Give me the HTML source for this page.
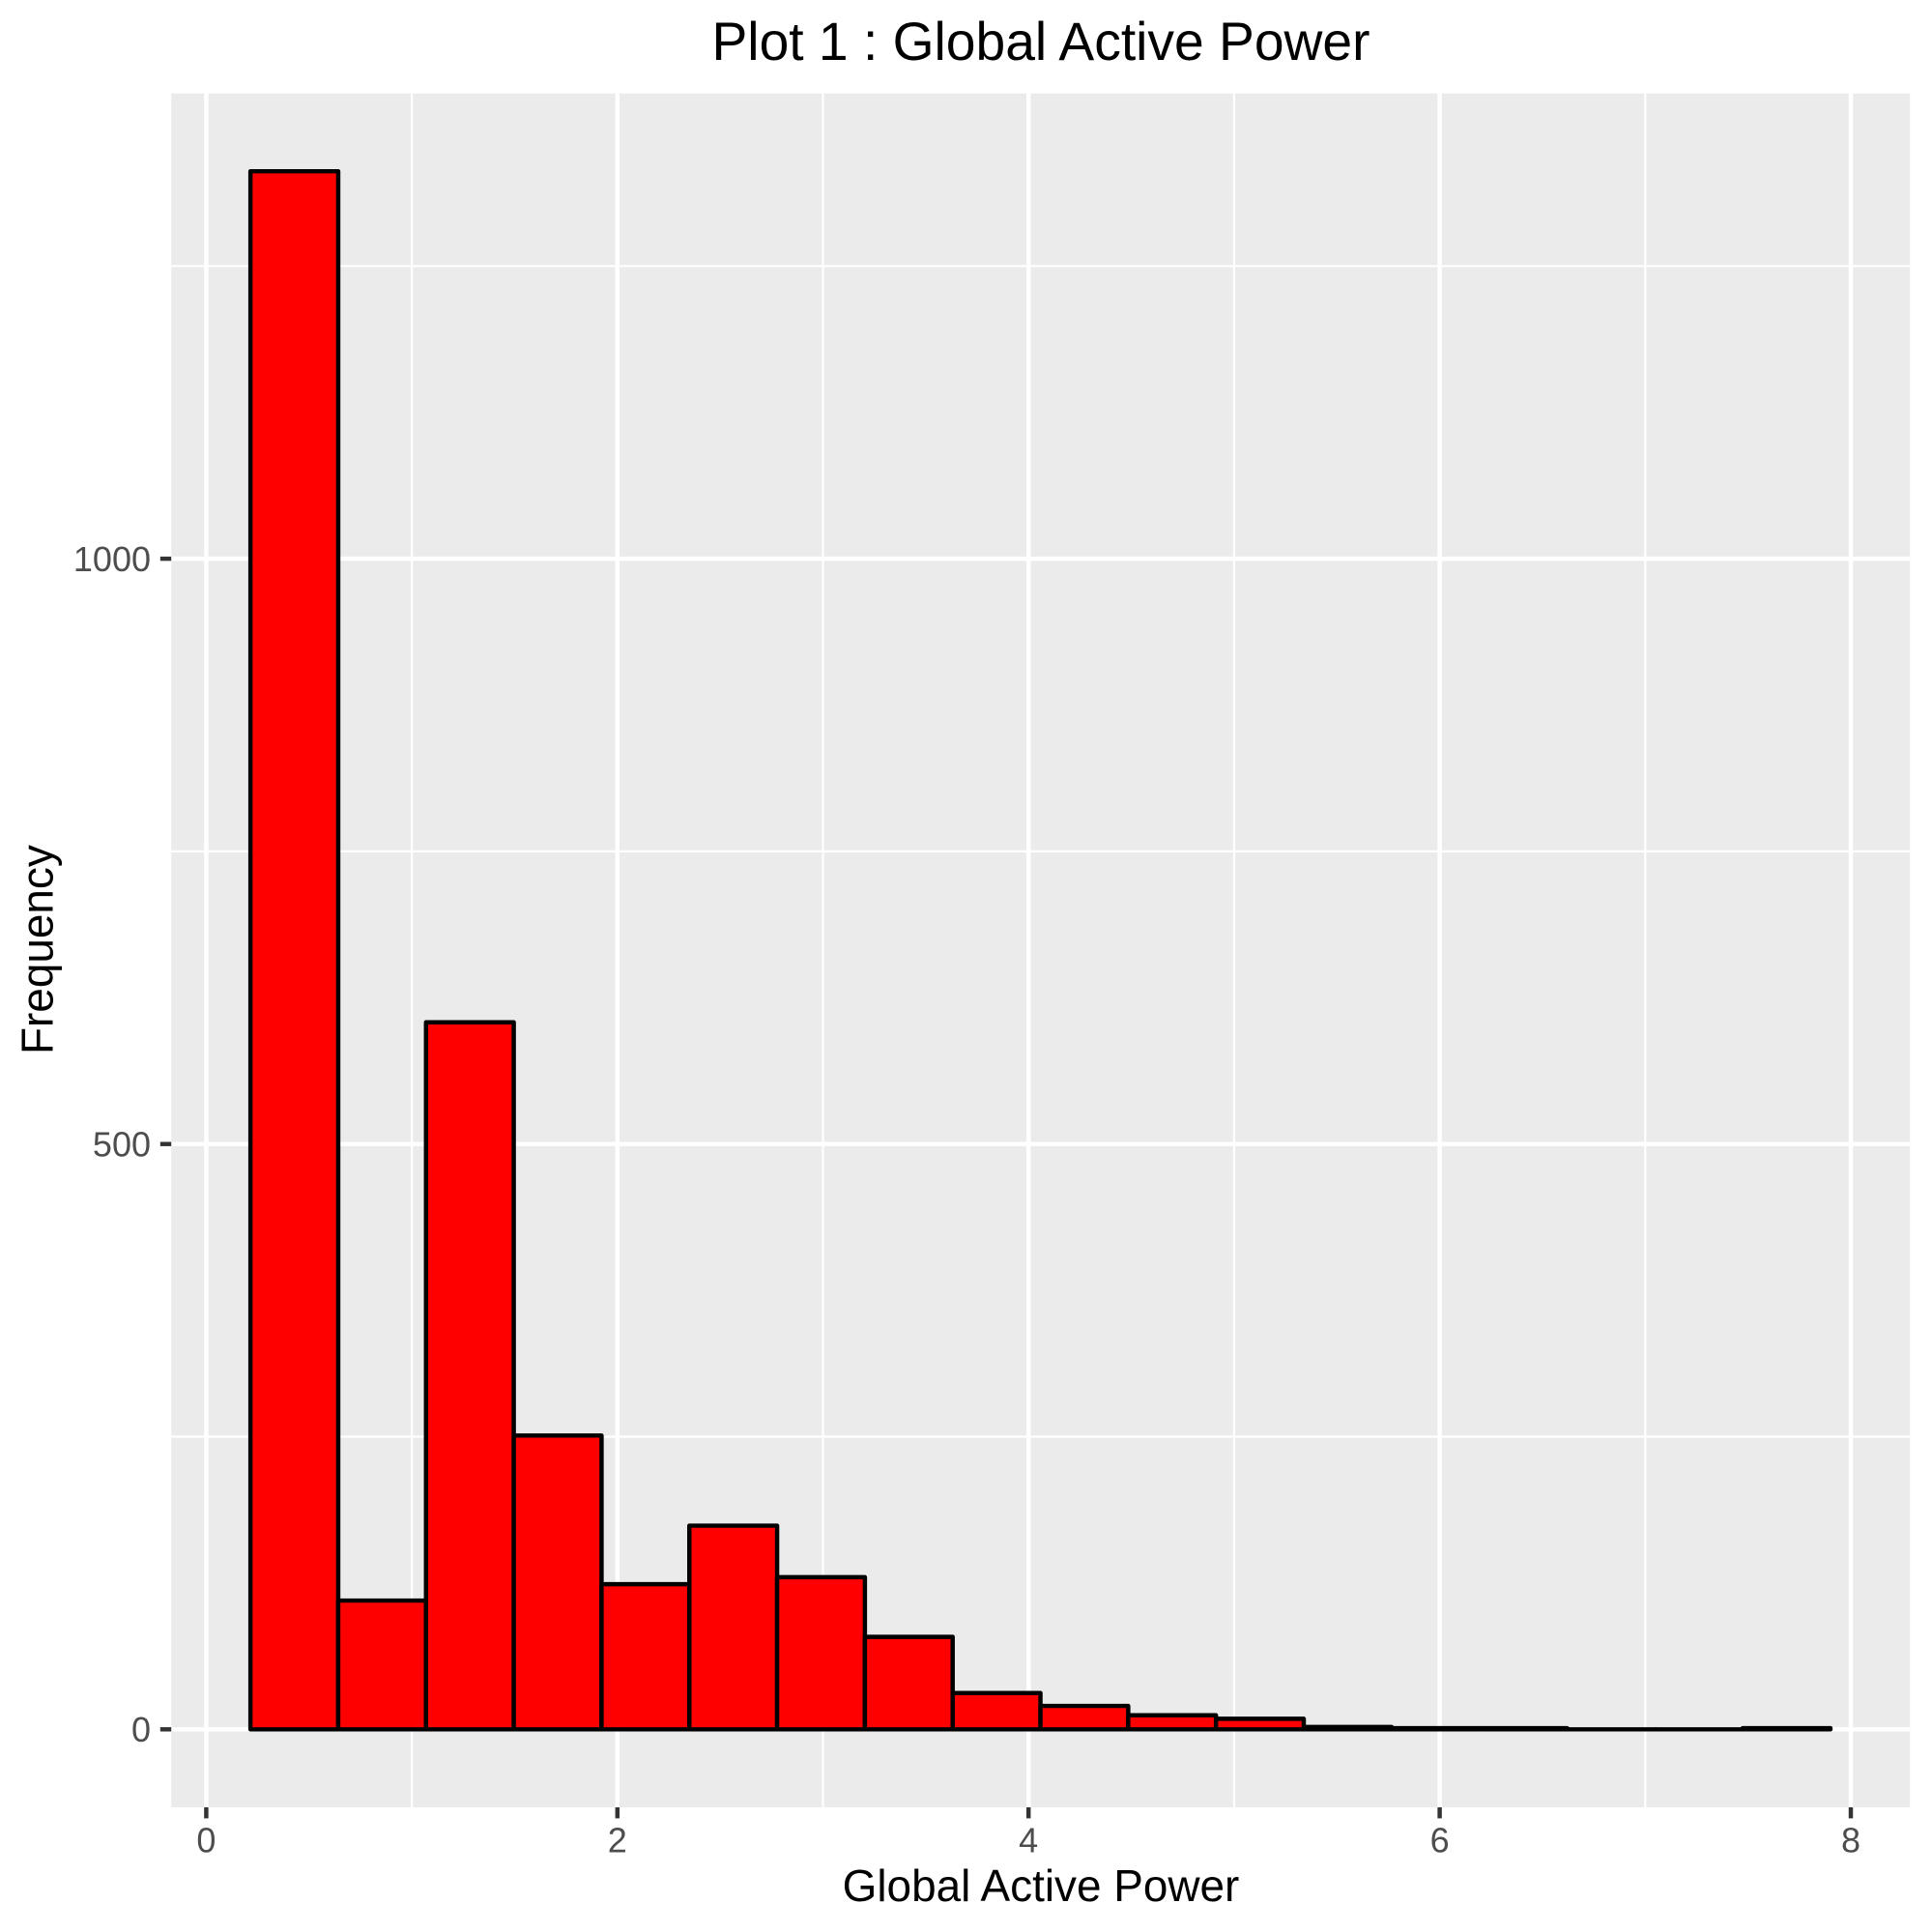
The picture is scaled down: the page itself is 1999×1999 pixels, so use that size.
<!DOCTYPE html>
<html>
<head>
<meta charset="utf-8">
<title>Plot 1 : Global Active Power</title>
<style>
html,body{margin:0;padding:0;background:#fff;}
svg{display:block;}
text{font-family:"Liberation Sans",Arial,sans-serif;}
</style>
</head>
<body>
<svg id="chart" xmlns="http://www.w3.org/2000/svg" width="1999" height="1999" viewBox="0 0 1999 1999">
  <rect x="0" y="0" width="1999" height="1999" fill="#ffffff"/>
  <rect x="177.2" y="96.7" width="1799" height="1773.3" fill="#EBEBEB"/>
  <g id="grid"></g>
  <g id="bars"></g>
  <g id="axes"></g>
  <text x="1077" y="62" text-anchor="middle" font-size="55.2" fill="#000000">Plot 1 : Global Active Power</text>
  <text x="1077" y="1967" text-anchor="middle" font-size="45.9" fill="#000000">Global Active Power</text>
  <text transform="translate(54.3 982.6) rotate(-90)" text-anchor="middle" font-size="45.9" fill="#000000">Frequency</text>
</svg>
<script>
const binCounts = [1331, 110, 604, 251, 124, 174, 130, 79, 31, 20, 12, 9, 2, 1, 1, 0, 0, 1];
const binOrigin = 0.215;
const binWidth = 0.427;
const xMajorTicks = [0, 2, 4, 6, 8];
const xMinorTicks = [1, 3, 5, 7];
const yMajorTicks = [0, 500, 1000];
const yMinorTicks = [250, 750, 1250];

const NS = 'http://www.w3.org/2000/svg';
const panel = { left: 177.2, right: 1976.2, top: 96.7, bottom: 1870 };
const majorWidth = 4.45;
const minorWidth = 2.2;
const tickLength = 11.4;

function xScale(v) { return 213.4 + v * 212.7; }
function yScale(v) { return 1789.3 - v * 1.2112; }

function makeLine(parent, x1, y1, x2, y2, stroke, width) {
  const el = document.createElementNS(NS, 'line');
  el.setAttribute('x1', x1);
  el.setAttribute('y1', y1);
  el.setAttribute('x2', x2);
  el.setAttribute('y2', y2);
  el.setAttribute('stroke', stroke);
  el.setAttribute('stroke-width', width);
  parent.appendChild(el);
  return el;
}

function makeLabel(parent, x, y, anchor, content) {
  const el = document.createElementNS(NS, 'text');
  el.setAttribute('x', x);
  el.setAttribute('y', y);
  el.setAttribute('text-anchor', anchor);
  el.setAttribute('font-size', '36');
  el.setAttribute('fill', '#4D4D4D');
  el.textContent = content;
  parent.appendChild(el);
  return el;
}

const grid = document.getElementById('grid');
const bars = document.getElementById('bars');
const axes = document.getElementById('axes');

xMinorTicks.forEach(function (v) {
  const line = makeLine(grid, xScale(v), panel.top, xScale(v), panel.bottom, '#ffffff', minorWidth);
  
  
});
yMinorTicks.forEach(function (v) {
  const line = makeLine(grid, panel.left, yScale(v), panel.right, yScale(v), '#ffffff', minorWidth);
  
  
});
xMajorTicks.forEach(function (v) {
  const line = makeLine(grid, xScale(v), panel.top, xScale(v), panel.bottom, '#ffffff', majorWidth);
  
  
});
yMajorTicks.forEach(function (v) {
  const line = makeLine(grid, panel.left, yScale(v), panel.right, yScale(v), '#ffffff', majorWidth);
  
  
});

binCounts.forEach(function (count, i) {
  const x0 = xScale(binOrigin + i * binWidth);
  const x1 = xScale(binOrigin + (i + 1) * binWidth);
  const y0 = yScale(0);
  const y1 = yScale(count);
  const bar = document.createElementNS(NS, 'path');
  bar.setAttribute('d', 'M' + x0 + ' ' + y0 + 'V' + y1 + 'H' + x1 + 'V' + y0 + 'Z');
  bar.setAttribute('fill', '#FF0000');
  bar.setAttribute('stroke', '#000000');
  bar.setAttribute('stroke-width', '4.45');
  bar.setAttribute('stroke-linejoin', 'round');
  bar.setAttribute('stroke-linecap', 'round');
  
  
  bars.appendChild(bar);
});

xMajorTicks.forEach(function (v) {
  const tick = makeLine(axes, xScale(v), panel.bottom, xScale(v), panel.bottom + tickLength, '#333333', majorWidth);
  
  
  const label = makeLabel(axes, xScale(v), 1916.7, 'middle', String(v));
  
  
});
yMajorTicks.forEach(function (v) {
  const tick = makeLine(axes, panel.left - tickLength, yScale(v), panel.left, yScale(v), '#333333', majorWidth);
  
  
  const label = makeLabel(axes, 156, yScale(v) + 12.7, 'end', String(v));
  
  
});
</script>
</body>
</html>
